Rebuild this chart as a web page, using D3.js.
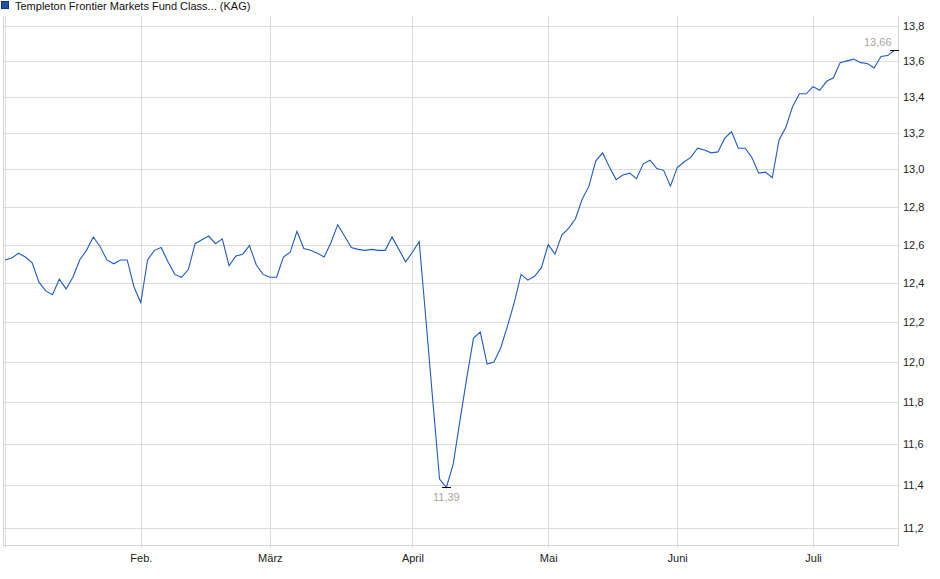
<!DOCTYPE html>
<html>
<head>
<meta charset="utf-8">
<script src="https://cdn.jsdelivr.net/npm/d3@7"></script>
<style>
  body { margin: 0; background: #fff; }
  svg { display: block; font-family: "Liberation Sans", Arial, sans-serif; }
  .grid line { stroke: #dcdcdc; shape-rendering: crispEdges; }
  .grid path { display: none; }
  .axis text { fill: #222; font-size: 11px; }
</style>
</head>
<body>
<div id="chart"></div>
<script>
var title = "Templeton Frontier Markets Fund Class... (KAG)";

// daily prices, one per trading day (Jan .. Jul)
var prices = [
  12.52, 12.53, 12.555, 12.535, 12.505, 12.405, 12.36, 12.34, 12.42, 12.37,
  12.43, 12.52, 12.57, 12.64, 12.59, 12.52, 12.50, 12.52, 12.52, 12.38,
  12.30, 12.52, 12.57, 12.585, 12.51, 12.445, 12.43, 12.47, 12.605, 12.625,
  12.645, 12.605, 12.63, 12.49, 12.54, 12.55, 12.595, 12.495, 12.445, 12.43,
  12.43, 12.535, 12.56, 12.67, 12.58, 12.57, 12.555, 12.535, 12.61, 12.705,
  12.645, 12.585, 12.575, 12.57, 12.575, 12.57, 12.57, 12.64, 12.575, 12.51,
  12.56, 12.615, 12.21, 11.81, 11.43, 11.39, 11.50, 11.71, 11.92, 12.12,
  12.15, 11.99, 12.00, 12.07, 12.18, 12.30, 12.445, 12.415, 12.435, 12.48,
  12.60, 12.55, 12.65, 12.685, 12.735, 12.84, 12.91, 13.045, 13.09, 13.015,
  12.945, 12.97, 12.98, 12.95, 13.03, 13.05, 13.005, 12.995, 12.91, 13.01,
  13.04, 13.065, 13.115, 13.105, 13.09, 13.095, 13.17, 13.205, 13.115, 13.115,
  13.065, 12.98, 12.985, 12.955, 13.16, 13.23, 13.345, 13.415, 13.415, 13.455,
  13.435, 13.485, 13.505, 13.59, 13.60, 13.61, 13.59, 13.585, 13.56, 13.625,
  13.63, 13.66
];

// first trading day of each month (index into prices)
var monthLabels = ["", "Feb.", "März", "April", "Mai", "Juni", "Juli"];
var monthStart = [0, 20, 39, 60, 80, 99, 119];

var yTicks = [11.2, 11.4, 11.6, 11.8, 12.0, 12.2, 12.4, 12.6, 12.8, 13.0, 13.2, 13.4, 13.6, 13.8];

var width = 940;
var height = 579;
var plotLeft = 3, plotRight = 898, plotTop = 16, plotBottom = 545;
var lineColor = "#1f5bc6";

var svg = d3.select("#chart")
  .append("svg")
  .attr("width", width)
  .attr("height", height);

var x = d3.scaleLinear()
  .domain([0, prices.length - 1])
  .range([5, 894.5]);

// price axis is logarithmic
var y = d3.scaleLog()
  .domain([11.121, 13.856])
  .range([plotBottom, plotTop]);

var fmt = function(v) { return d3.format(".2f")(v).replace(".", ","); };

// horizontal grid + right labels
var yAxis = svg.append("g")
  .attr("class", "grid axis")
  .attr("transform", "translate(" + plotRight + ",0)")
  .call(d3.axisRight(y)
    .tickValues(yTicks)
    .tickSize(-(plotRight - plotLeft))
    .tickPadding(5)
    .tickFormat(function(d) { return d3.format(".1f")(d).replace(".", ","); }));
yAxis.selectAll(".tick line").attr("x1", 0);
yAxis.selectAll(".tick text").attr("x", 5);

// vertical grid at month starts
var xAxis = svg.append("g")
  .attr("class", "grid axis")
  .attr("transform", "translate(0," + plotBottom + ")")
  .call(d3.axisBottom(x)
    .tickValues(monthStart)
    .tickSizeInner(-(plotBottom - plotTop))
    .tickSizeOuter(0)
    .tickPadding(8)
    .tickFormat(function(d, i) { return monthLabels[i]; }));
xAxis.selectAll(".tick line").attr("y1", 3);
xAxis.selectAll(".tick text").attr("y", 9);

// frame (left, bottom, right)
svg.append("path")
  .attr("d", "M" + (plotLeft + 0.5) + "," + plotTop + "V" + (plotBottom + 0.5) + "H" + (plotRight + 0.5) + "V" + plotTop)
  .attr("fill", "none")
  .attr("stroke", "#d4d4d4")
  .attr("shape-rendering", "crispEdges");

var line = d3.line()
  .x(function(d, i) { return x(i); })
  .y(function(d) { return y(d); });

svg.append("path")
  .datum(prices)
  .attr("d", line)
  .attr("fill", "none")
  .attr("stroke", lineColor)
  .attr("stroke-width", 1.1);

// high / low markers
var hiIdx = d3.maxIndex(prices);
var loIdx = d3.minIndex(prices);

[hiIdx, loIdx].forEach(function(i) {
  svg.append("line")
    .attr("x1", x(i) - 4.5)
    .attr("x2", x(i) + 4.5)
    .attr("y1", Math.round(y(prices[i])) + 0.5)
    .attr("y2", Math.round(y(prices[i])) + 0.5)
    .attr("stroke", "#000")
    .attr("shape-rendering", "crispEdges");
});

svg.append("text")
  .attr("x", x(hiIdx) - 3)
  .attr("y", y(prices[hiIdx]) - 4)
  .attr("text-anchor", "end")
  .attr("font-size", 11)
  .attr("fill", "#aaa69e")
  .text(fmt(prices[hiIdx]));

svg.append("text")
  .attr("x", x(loIdx))
  .attr("y", y(prices[loIdx]) + 14)
  .attr("text-anchor", "middle")
  .attr("font-size", 11)
  .attr("fill", "#aaa69e")
  .text(fmt(prices[loIdx]));

// legend
svg.append("rect")
  .attr("x", 1.5)
  .attr("y", 1.5)
  .attr("width", 7)
  .attr("height", 7)
  .attr("fill", "#1f4fae")
  .attr("stroke", "#16337a");

svg.append("text")
  .attr("x", 15)
  .attr("y", 9.5)
  .attr("font-size", 11)
  .attr("fill", "#111")
  .text(title);
</script>
</body>
</html>
